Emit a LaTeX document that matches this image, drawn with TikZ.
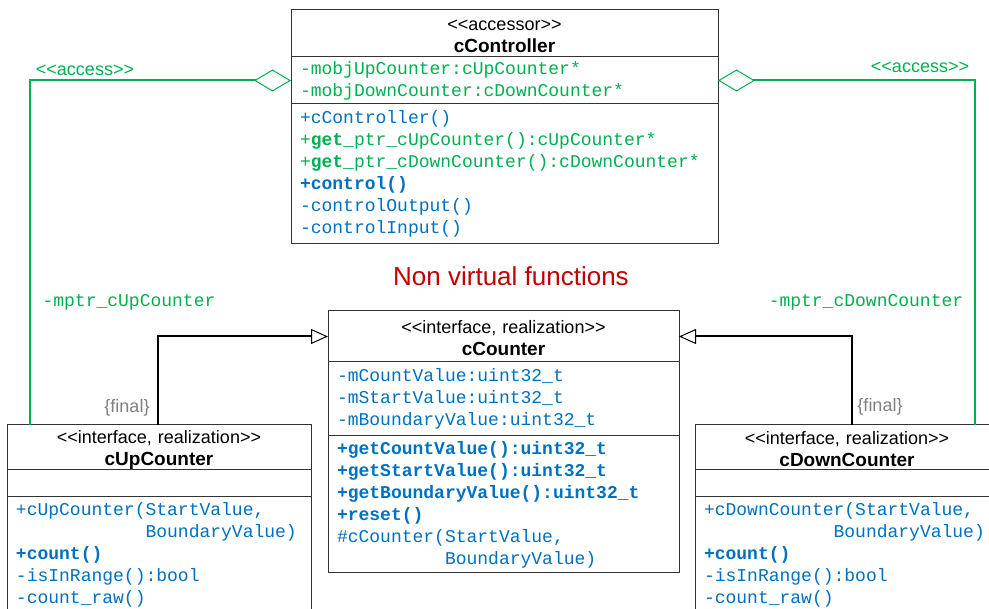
\documentclass[tikz,border=0pt]{standalone}
\usepackage{fontspec}
\setmainfont{Liberation Sans}
\setmonofont{Liberation Mono}
\usetikzlibrary{positioning,arrows.meta,calc}

\definecolor{umlgreen}{RGB}{0,176,80}
\definecolor{umlblue}{RGB}{0,112,192}
\definecolor{umlred}{RGB}{192,0,0}
\definecolor{umlgray}{RGB}{128,128,128}

\newcommand{\ster}[1]{<\kern0pt<#1>\kern0pt>}
\newcommand{\umlsize}{\fontsize{18}{22}\selectfont}
\newcommand{\classtitle}[2]{\rule{0pt}{17pt}\ster{#1}\\{\fontsize{19}{22}\selectfont\bfseries #2}}

\tikzset{
  classhead/.style={draw=black!80, line width=1pt, outer sep=0pt, align=center,
    inner xsep=9pt, inner ysep=0pt, font=\umlsize},
  members/.style={draw=black!80, line width=1pt, outer sep=0pt, align=left,
    inner xsep=9pt, inner ysep=0pt, font=\umlsize\ttfamily, text=umlblue},
  access/.style={draw=umlgreen, line width=2pt,
    -{Diamond[open, length=37pt, width=22pt, line width=1pt]}},
  realize/.style={draw=black, line width=2pt,
    -{Triangle[open, length=17pt, width=15pt, line width=1pt]}},
}

\begin{document}
\begin{tikzpicture}[x=1pt, y=-1pt]
  \clip (0,0) rectangle (989,609);

  % cController
  \node[classhead, text width=409pt, minimum height=47pt] (ctrlhead) at (504.5,33.5)
    {\classtitle{accessor}{cController}};
  \node[members, text width=409pt, minimum height=47pt, text=umlgreen, below=0pt of ctrlhead] (ctrlattr)
    {-mobjUpCounter:cUpCounter*\\-mobjDownCounter:cDownCounter*};
  \node[members, text width=409pt, minimum height=140pt, below=0pt of ctrlattr] (ctrlops)
    {+cController()\\
     \textcolor{umlgreen}{+\textbf{get}\_ptr\_cUpCounter():cUpCounter*}\\
     \textcolor{umlgreen}{+\textbf{get}\_ptr\_cDownCounter():cDownCounter*}\\
     \textbf{+control()}\\
     -controlOutput()\\
     -controlInput()};

  % cCounter
  \node[classhead, text width=333pt, minimum height=51pt] (cntrhead) at (503.5,336.5)
    {\classtitle{interface, realization}{cCounter}};
  \node[members, text width=333pt, minimum height=74pt, below=0pt of cntrhead] (cntrattr)
    {-mCountValue:uint32\_t\\-mStartValue:uint32\_t\\-mBoundaryValue:uint32\_t};
  \node[members, text width=333pt, minimum height=137pt, below=0pt of cntrattr] (cntrops)
    {\textbf{+getCountValue():uint32\_t}\\
     \textbf{+getStartValue():uint32\_t}\\
     \textbf{+getBoundaryValue():uint32\_t}\\
     \textbf{+reset()}\\
     \#cCounter(StartValue,\\
     \hspace*{6em}BoundaryValue)};

  % cUpCounter
  \node[classhead, text width=286pt, minimum height=45pt] (uphead) at (159,447.5)
    {\classtitle{interface, realization}{cUpCounter}};
  \node[members, text width=286pt, minimum height=27pt, below=0pt of uphead] (upattr) {};
  \node[members, text width=286pt, minimum height=116pt, below=0pt of upattr] (upops)
    {+cUpCounter(StartValue,\\
     \hspace*{7.2em}BoundaryValue)\\
     \textbf{+count()}\\
     -isInRange():bool\\
     -count\_raw()};

  % cDownCounter
  \node[classhead, text width=286pt, minimum height=45pt] (downhead) at (847,447.5)
    {\classtitle{interface, realization}{cDownCounter}};
  \node[members, text width=286pt, minimum height=27pt, below=0pt of downhead] (downattr) {};
  \node[members, text width=286pt, minimum height=116pt, below=0pt of downattr] (downops)
    {+cDownCounter(StartValue,\\
     \hspace*{7.2em}BoundaryValue)\\
     \textbf{+count()}\\
     -isInRange():bool\\
     -count\_raw()};

  % associations
  \draw[access] ($(uphead.north west)+(23,0)$) |- (ctrlattr.west);
  \draw[access] ($(downhead.north west)+(280,0)$) |- (ctrlattr.east);
  \node[font=\umlsize, text=umlgreen] (accup) at (85,70) {\ster{access}};
  \node[font=\umlsize, text=umlgreen] (accdown) at (920,67) {\ster{access}};
  \node[font=\umlsize\ttfamily, text=umlgreen] (roleup) at (129,302) {-mptr\_cUpCounter};
  \node[font=\umlsize\ttfamily, text=umlgreen] (roledown) at (866,302) {-mptr\_cDownCounter};

  % realizations
  \draw[realize] ($(uphead.north west)+(151,0)$) |- (cntrhead.west);
  \draw[realize] ($(downhead.north west)+(157,0)$) |- (cntrhead.east);
  \node[font=\umlsize, text=umlgray] (finup) at (127,408) {\{final\}};
  \node[font=\umlsize, text=umlgray] (findown) at (880,407) {\{final\}};

  \node[font=\fontsize{26}{30}\selectfont, text=umlred] (note) at (511,276) {Non virtual functions};
\end{tikzpicture}
\end{document}
